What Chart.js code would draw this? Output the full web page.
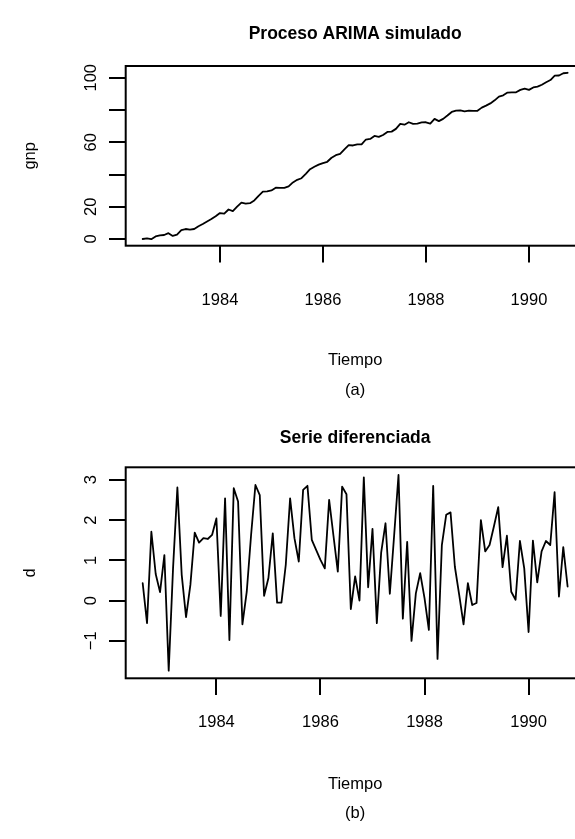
<!DOCTYPE html>
<html><head><meta charset="utf-8">
<script src="https://cdn.jsdelivr.net/npm/chart.js@4/dist/chart.umd.min.js"></script>
<style>
html,body{margin:0;padding:0;background:#fff;overflow:hidden;width:575px;height:839px;}
#wrap{position:relative;width:575px;height:839px;overflow:hidden;background:#fff;}
canvas{position:absolute;left:0;}
</style></head><body>
<div id="wrap">
<canvas id="c1" width="620" height="420" style="top:0px;width:620px;height:420px"></canvas>
<canvas id="c2" width="620" height="419" style="top:420px;width:620px;height:419px"></canvas>
</div>
<script>
// ---- data (monthly series) ----
const gnpStart = 1982.5;      // July 1982
const dStart = 1982 + 7/12;   // August 1982
const freq = 12;
const gnpValues = [0.0,0.4,-0.1,1.6,2.3,2.5,3.6,1.9,2.7,5.5,
6.2,5.8,6.2,7.9,9.3,10.9,12.4,14.1,16.1,15.7,
18.3,17.3,20.1,22.6,22.0,22.2,23.9,26.8,29.4,29.5,
30.1,31.8,31.7,31.7,32.6,35.1,36.7,37.7,40.4,43.3,
44.8,46.1,47.1,47.9,50.4,52.0,52.8,55.6,58.2,58.0,
58.7,58.7,61.7,62.1,63.9,63.3,64.5,66.4,66.6,68.3,
71.4,70.9,72.4,71.4,71.6,72.3,72.4,71.6,74.5,73.1,
74.5,76.6,78.8,79.6,79.8,79.2,79.6,79.5,79.5,81.5,
82.7,84.1,86.0,88.3,89.1,90.8,91.0,91.0,92.5,93.3,
92.5,94.0,94.5,95.7,97.2,98.6,101.3,101.4,102.8,103.1];
const dValues = [0.43,-0.56,1.71,0.66,0.21,1.13,-1.74,0.8,2.81,0.64,
-0.41,0.39,1.69,1.44,1.55,1.53,1.63,2.04,-0.38,2.54,
-0.98,2.79,2.46,-0.59,0.22,1.63,2.87,2.62,0.12,0.56,
1.67,-0.05,-0.05,0.89,2.54,1.55,0.97,2.75,2.85,1.51,
1.26,1.01,0.80,2.50,1.61,0.72,2.83,2.64,-0.21,0.60,
0.00,3.06,0.33,1.78,-0.56,1.19,1.92,0.17,1.63,3.12,
-0.45,1.46,-1.00,0.18,0.68,0.06,-0.73,2.85,-1.45,1.38,
2.13,2.19,0.84,0.14,-0.59,0.43,-0.11,-0.06,2.00,1.22,
1.38,1.84,2.32,0.83,1.61,0.22,0.02,1.48,0.80,-0.78,
1.49,0.45,1.22,1.48,1.38,2.69,0.10,1.33,0.35];
const xTickValues = [1984,1986,1988,1990];
const xTickLabels = ['1984','1986','1988','1990'];
const gnpTicks = [0,20,40,60,80,100];
const gnpTickLabels = ['0','20','','60','','100'];
const dTicks = [-1,0,1,2,3];
const dTickLabels = ['\u22121','0','1','2','3'];
const titles = ['Proceso ARIMA simulado','Serie diferenciada'];
const xTitle = 'Tiempo';
const subs = ['(a)','(b)'];
const yTitles = ['gnp','d'];

const FONT = '"Liberation Sans", Arial, Helvetica, sans-serif';

const rPlugin = {
  id: 'rstyle',
  afterDraw(chart, args, o) {
    const {ctx, chartArea: a, scales: {x, y}} = chart;
    ctx.save();
    ctx.strokeStyle = '#000'; ctx.lineWidth = 2;
    ctx.strokeRect(a.left, a.top, a.right - a.left, a.bottom - a.top);
    ctx.fillStyle = '#000';
    const cx = (a.left + a.right) / 2;
    ctx.textAlign = 'center'; ctx.textBaseline = 'alphabetic';
    ctx.font = 'bold 17.5px ' + FONT;
    ctx.fillText(o.title, cx, o.titleY);
    ctx.font = '16.5px ' + FONT;
    o.xTicks.forEach((v, k) => ctx.fillText(o.xLabels[k], x.getPixelForValue(v), o.xLabelY));
    ctx.fillText(o.xTitle, cx, o.xTitleY);
    ctx.fillText(o.sub, cx, o.subY);
    o.yTicks.forEach((v, k) => {
      const lab = o.yLabels[k]; if (!lab) return;
      ctx.save(); ctx.translate(o.yLabelX, y.getPixelForValue(v)); ctx.rotate(-Math.PI/2);
      ctx.fillText(lab, 0, 0); ctx.restore();
    });
    ctx.save(); ctx.translate(o.yTitleX, (a.top + a.bottom)/2); ctx.rotate(-Math.PI/2);
    ctx.fillText(o.yTitle, 0, 0); ctx.restore();
    ctx.restore();
  }
};

function makeChart(id, start, values, xmin, xmax, ymin, ymax, yTicks, yLabels, pad, txt) {
  const pts = values.map((v, i) => ({x: start + i / freq, y: v}));
  return new Chart(document.getElementById(id), {
    type: 'line',
    data: {datasets: [{data: pts, borderColor: '#000', borderWidth: 1.8, pointRadius: 0,
      tension: 0, fill: false, borderJoinStyle: 'round', borderCapStyle: 'round'}]},
    options: {
      responsive: false, animation: false, devicePixelRatio: 1,
      layout: {padding: pad},
      plugins: {legend: {display: false}, tooltip: {enabled: false}, title: {display: false}, rstyle: txt},
      scales: {
        x: {type: 'linear', min: xmin, max: xmax,
          afterBuildTicks: s => { s.ticks = xTickValues.map(v => ({value: v})); },
          afterFit: s => { s.height = 17; },
          ticks: {display: false},
          border: {display: false},
          grid: {drawOnChartArea: false, drawTicks: true, tickLength: 16.7, color: '#000', lineWidth: 2}},
        y: {type: 'linear', min: ymin, max: ymax,
          afterBuildTicks: s => { s.ticks = yTicks.map(v => ({value: v})); },
          afterFit: s => { s.width = 17; },
          ticks: {display: false},
          border: {display: false},
          grid: {drawOnChartArea: false, drawTicks: true, tickLength: 16.7, color: '#000', lineWidth: 2}}
      }
    },
    plugins: [rPlugin]
  });
}

// top panel
makeChart('c1', gnpStart, gnpValues, 1982.17, 1991.08, -4.15, 107.3, gnpTicks, gnpTickLabels,
  {top: 66, left: 108.7, right: 35.4, bottom: 157.3},
  {title: titles[0], titleY: 39, xTicks: xTickValues, xLabels: xTickLabels, xLabelY: 305,
   xTitle: xTitle, xTitleY: 365, sub: subs[0], subY: 395,
   yTicks: gnpTicks, yLabels: gnpTickLabels, yLabelX: 96, yTitle: yTitles[0], yTitleX: 35});
// bottom panel
makeChart('c2', dStart, dValues, 1982.2567, 1991.0767, -1.93, 3.31, dTicks, dTickLabels,
  {top: 47.3, left: 108.7, right: 35.4, bottom: 143.7},
  {title: titles[1], titleY: 23, xTicks: xTickValues, xLabels: xTickLabels, xLabelY: 307,
   xTitle: xTitle, xTitleY: 369, sub: subs[1], subY: 398,
   yTicks: dTicks, yLabels: dTickLabels, yLabelX: 96, yTitle: yTitles[1], yTitleX: 35});
</script>
</body></html>
